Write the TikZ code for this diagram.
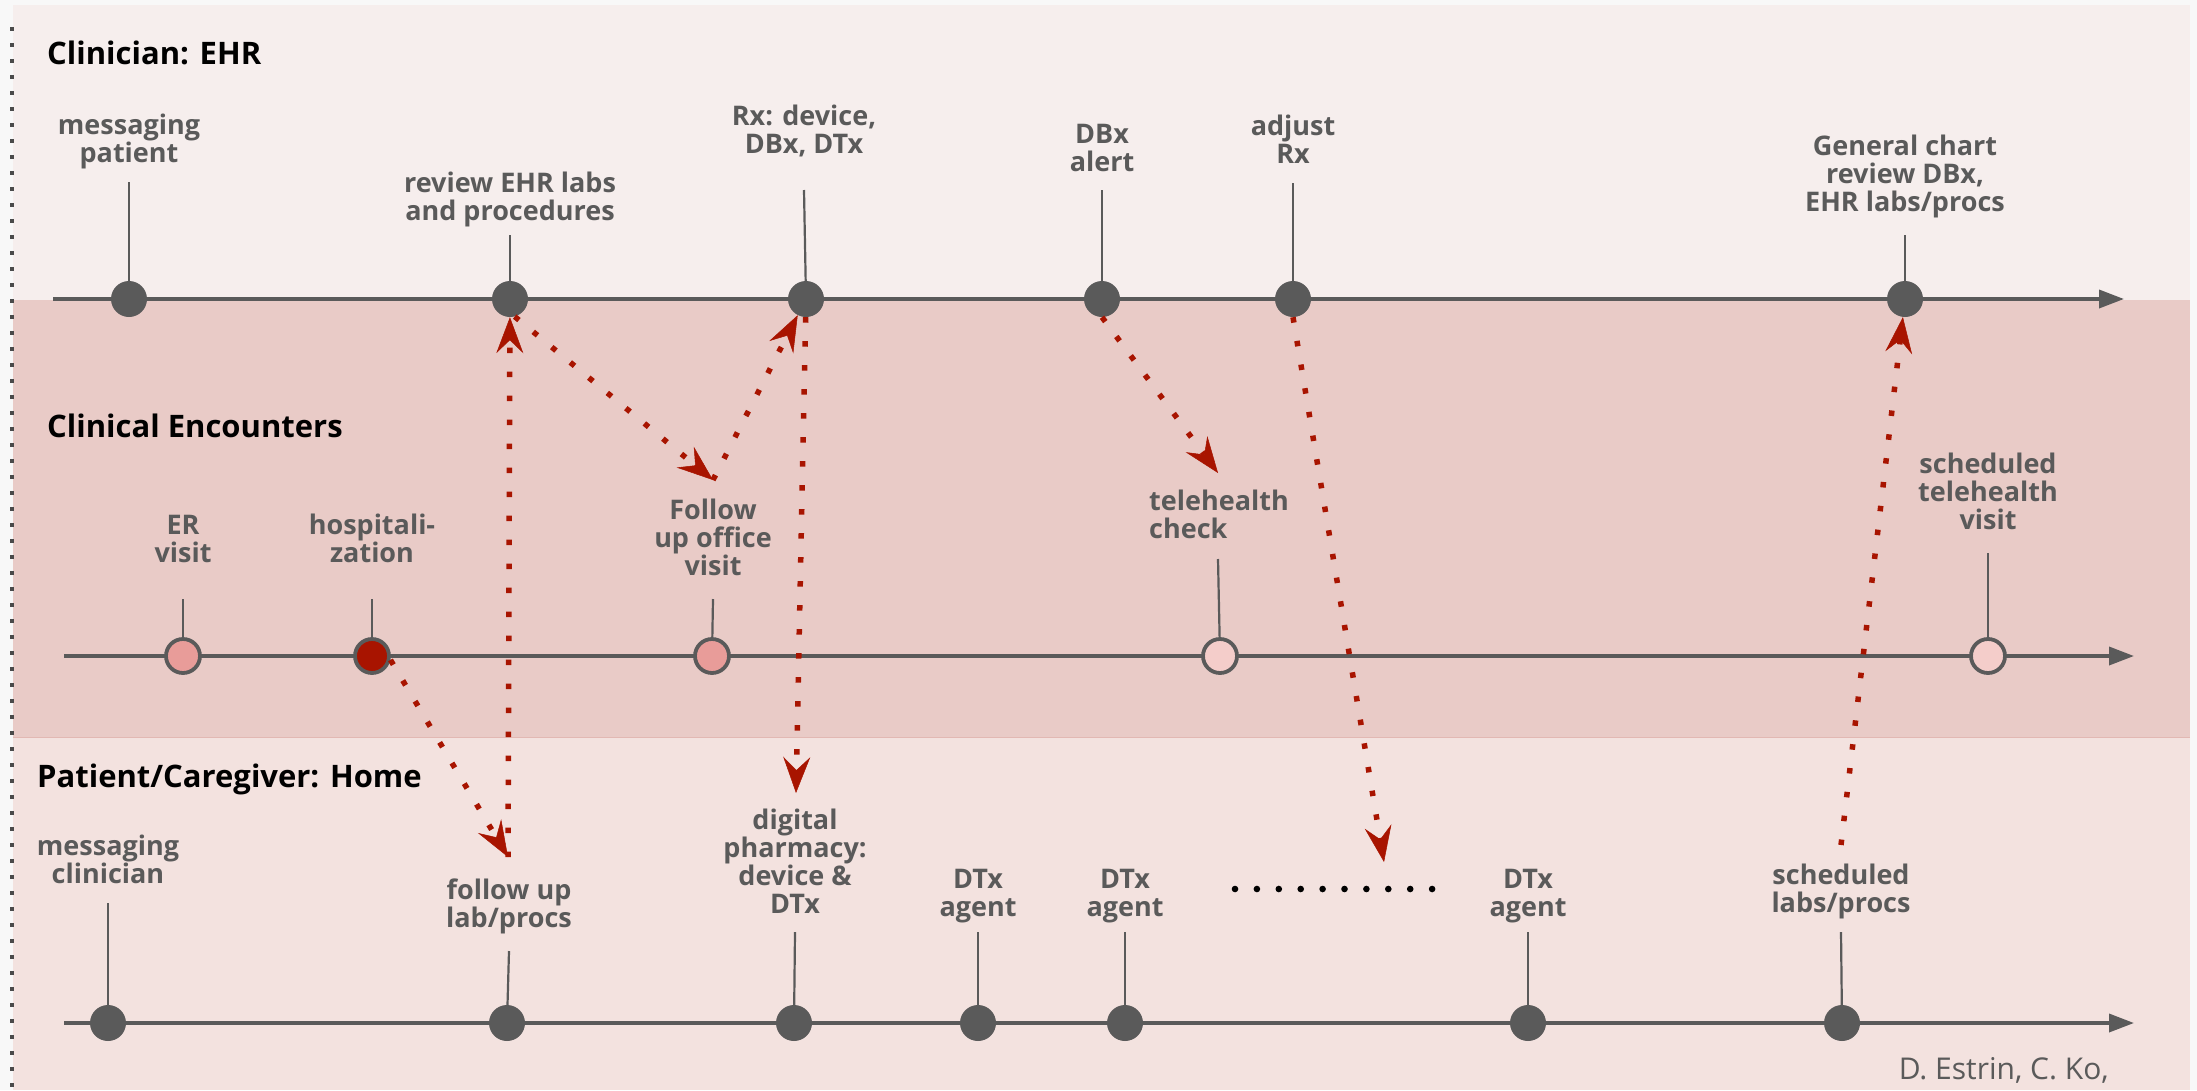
\documentclass[tikz,border=0pt]{standalone}
\usepackage{fontspec}
\setmainfont{Open Sans}
\usetikzlibrary{arrows.meta}

\definecolor{pagebg}{HTML}{F8F8F8}
\definecolor{bandtop}{HTML}{F6EEED}
\definecolor{bandmid}{HTML}{E9CBC7}
\definecolor{bandbot}{HTML}{F3E2DF}
\definecolor{bandedge}{HTML}{E2B8B3}
\definecolor{axisgray}{HTML}{5A5A5A}
\definecolor{margingray}{HTML}{4A4A4A}
\definecolor{flowred}{HTML}{A81400}
\definecolor{visitpink}{HTML}{E89C99}
\definecolor{visitlight}{HTML}{F4CDCA}
\definecolor{stayred}{HTML}{A81400}

\begin{document}
\begin{tikzpicture}[x=1pt,y=-1pt,
  axisline/.style={draw=axisgray, line width=3.6pt, -{Triangle[length=25pt,width=18pt]}},
  tickline/.style={draw=axisgray, line width=2.2pt},
  evt/.style={circle, fill=axisgray, minimum size=36pt, inner sep=0pt},
  visit/.style={circle, draw=axisgray, line width=3.8pt, minimum size=34pt, inner sep=0pt},
  % labels are anchored at the baseline of their last line
  lbl/.style={text=axisgray, font=\fontsize{27}{28}\selectfont\bfseries, align=center, inner sep=0pt, anchor=base},
  lane/.style={text=black, font=\fontsize{31}{34}\selectfont\bfseries, inner sep=0pt, anchor=base west},
  flow/.style={draw=flowred, line width=5.5pt, dash pattern=on 5.5pt off 18.5pt,
    -{Stealth[length=36pt,width=27pt,inset=13pt,line width=0.5pt]}}
]
\useasboundingbox (0,0) rectangle (2197,1090);

% page and swim lanes
\fill[pagebg] (0,0) rectangle (2197,1090);
\fill[bandtop] (13,5) rectangle (2190,300);
\fill[bandmid] (13,300) rectangle (2190,737);
\fill[bandbot] (13,737) rectangle (2190,1090);
\draw[bandedge, line width=1pt] (13,737) -- (2190,737);

% dotted margin rule
\foreach \y in {27,43,...,1090}
  \fill[margingray] (9.5,\y) rectangle ++(4,4);

% lane titles
\node[lane] (laneEHR) at (47,64) {Clinician: EHR};
\node[lane] (laneClin) at (47,437) {Clinical Encounters};
\node[lane] (laneHome) at (37,787) {Patient/Caregiver: Home};

% time axes
\coordinate (ehrA) at (53,299);   \coordinate (ehrB) at (2124,299);
\coordinate (clinA) at (64,656);  \coordinate (clinB) at (2134,656);
\coordinate (homeA) at (64,1023); \coordinate (homeB) at (2134,1023);
\draw[axisline] (ehrA) -- (ehrB);
\draw[axisline] (clinA) -- (clinB);
\draw[axisline] (homeA) -- (homeB);

% ---- Clinician: EHR events
\node[evt] (msgP) at (129,299) {};
\node[lbl] (msgPl) at (129,162) {messaging\\patient};
\draw[tickline] (msgP) -- ++(0,-117);

\node[evt] (revE) at (510,299) {};
\node[lbl] (revEl) at (510,220) {review EHR labs\\and procedures};
\draw[tickline] (revE) -- ++(0,-64);

\node[evt] (rx) at (806,299) {};
\node[lbl] (rxl) at (804,153) {Rx: device,\\DBx, DTx};
\draw[tickline] (rx) -- (804,190);

\node[evt] (dbx) at (1102,299) {};
\node[lbl] (dbxl) at (1102,171) {DBx\\alert};
\draw[tickline] (dbx) -- ++(0,-109);

\node[evt] (adj) at (1293,299) {};
\node[lbl] (adjl) at (1293,163) {adjust\\Rx};
\draw[tickline] (adj) -- ++(0,-116);

\node[evt] (gen) at (1905,299) {};
\node[lbl] (genl) at (1905,211) {General chart\\review DBx,\\EHR labs/procs};
\draw[tickline] (gen) -- ++(0,-64);

% ---- Clinical encounters
\node[visit, fill=visitpink] (er) at (183,656) {};
\node[lbl] (erl) at (183,562) {ER\\visit};
\draw[tickline] (er) -- ++(0,-57);

\node[visit, fill=stayred] (hosp) at (372,656) {};
\node[lbl] (hospl) at (372,562) {hospitali-\\zation};
\draw[tickline] (hosp) -- ++(0,-57);

\node[visit, fill=visitpink] (fuo) at (712,656) {};
\node[lbl] (fuol) at (713,575) {Follow\\up office\\visit};
\draw[tickline] (fuo) -- (713,599);

\node[visit, fill=visitlight] (tele) at (1220,656) {};
\node[lbl, align=left, anchor=base west] (telel) at (1149,538) {telehealth\\check};
\draw[tickline] (tele) -- (1218,559);

\node[visit, fill=visitlight] (sched) at (1988,656) {};
\node[lbl] (schedl) at (1988,529) {scheduled\\telehealth\\visit};
\draw[tickline] (sched) -- ++(0,-103);

% ---- Patient / caregiver at home
\node[evt] (msgC) at (108,1023) {};
\node[lbl] (msgCl) at (108,883) {messaging\\clinician};
\draw[tickline] (msgC) -- ++(0,-120);

\node[evt] (ful) at (507,1023) {};
\node[lbl] (full) at (509,927) {follow up\\lab/procs};
\draw[tickline] (ful) -- (509,951);

\node[evt] (pharm) at (794,1023) {};
\node[lbl] (pharml) at (795,913) {digital\\pharmacy:\\device \&\\DTx};
\draw[tickline] (pharm) -- (795,932);

\node[evt] (dtxA) at (978,1023) {};
\node[lbl] (dtxAl) at (978,916) {DTx\\agent};
\draw[tickline] (dtxA) -- ++(0,-91);

\node[evt] (dtxB) at (1125,1023) {};
\node[lbl] (dtxBl) at (1125,916) {DTx\\agent};
\draw[tickline] (dtxB) -- ++(0,-91);

\node[evt] (dtxC) at (1528,1023) {};
\node[lbl] (dtxCl) at (1528,916) {DTx\\agent};
\draw[tickline] (dtxC) -- ++(0,-91);

\node[evt] (labs) at (1842,1023) {};
\node[lbl] (labsl) at (1841,912) {scheduled\\labs/procs};
\draw[tickline] (labs) -- (1841,932);

% ellipsis between agents
\foreach \i in {0,...,9}
  \fill[black] (1235+\i*21.9,889) circle (3.3);

% ---- care flow (red dotted arrows)
\coordinate (fulTip) at (508,857);
\coordinate (fuoTip) at (713,480);
\coordinate (pharmTip) at (796,793);
\coordinate (teleTip) at (1218,473);
\coordinate (adjTip) at (1384,862);
\coordinate (labsTail) at (1841,845);

\draw[flow] (hosp.-12) -- (fulTip);
\draw[flow] (fulTip) -- (revE);
\draw[flow] (revE.-75) -- (fuoTip);
\draw[flow] (fuoTip) -- (rx);
\draw[flow] (rx) -- (pharmTip);
\draw[flow] (dbx.south) -- (teleTip);
\draw[flow] (adj.south) -- (adjTip);
\draw[flow] (labsTail) -- (gen);

% credit line
\node[text=axisgray, font=\fontsize{30}{32}\selectfont, inner sep=0pt, anchor=base east] (credit) at (2109,1079) {D. Estrin, C. Ko,};
\end{tikzpicture}
\end{document}
